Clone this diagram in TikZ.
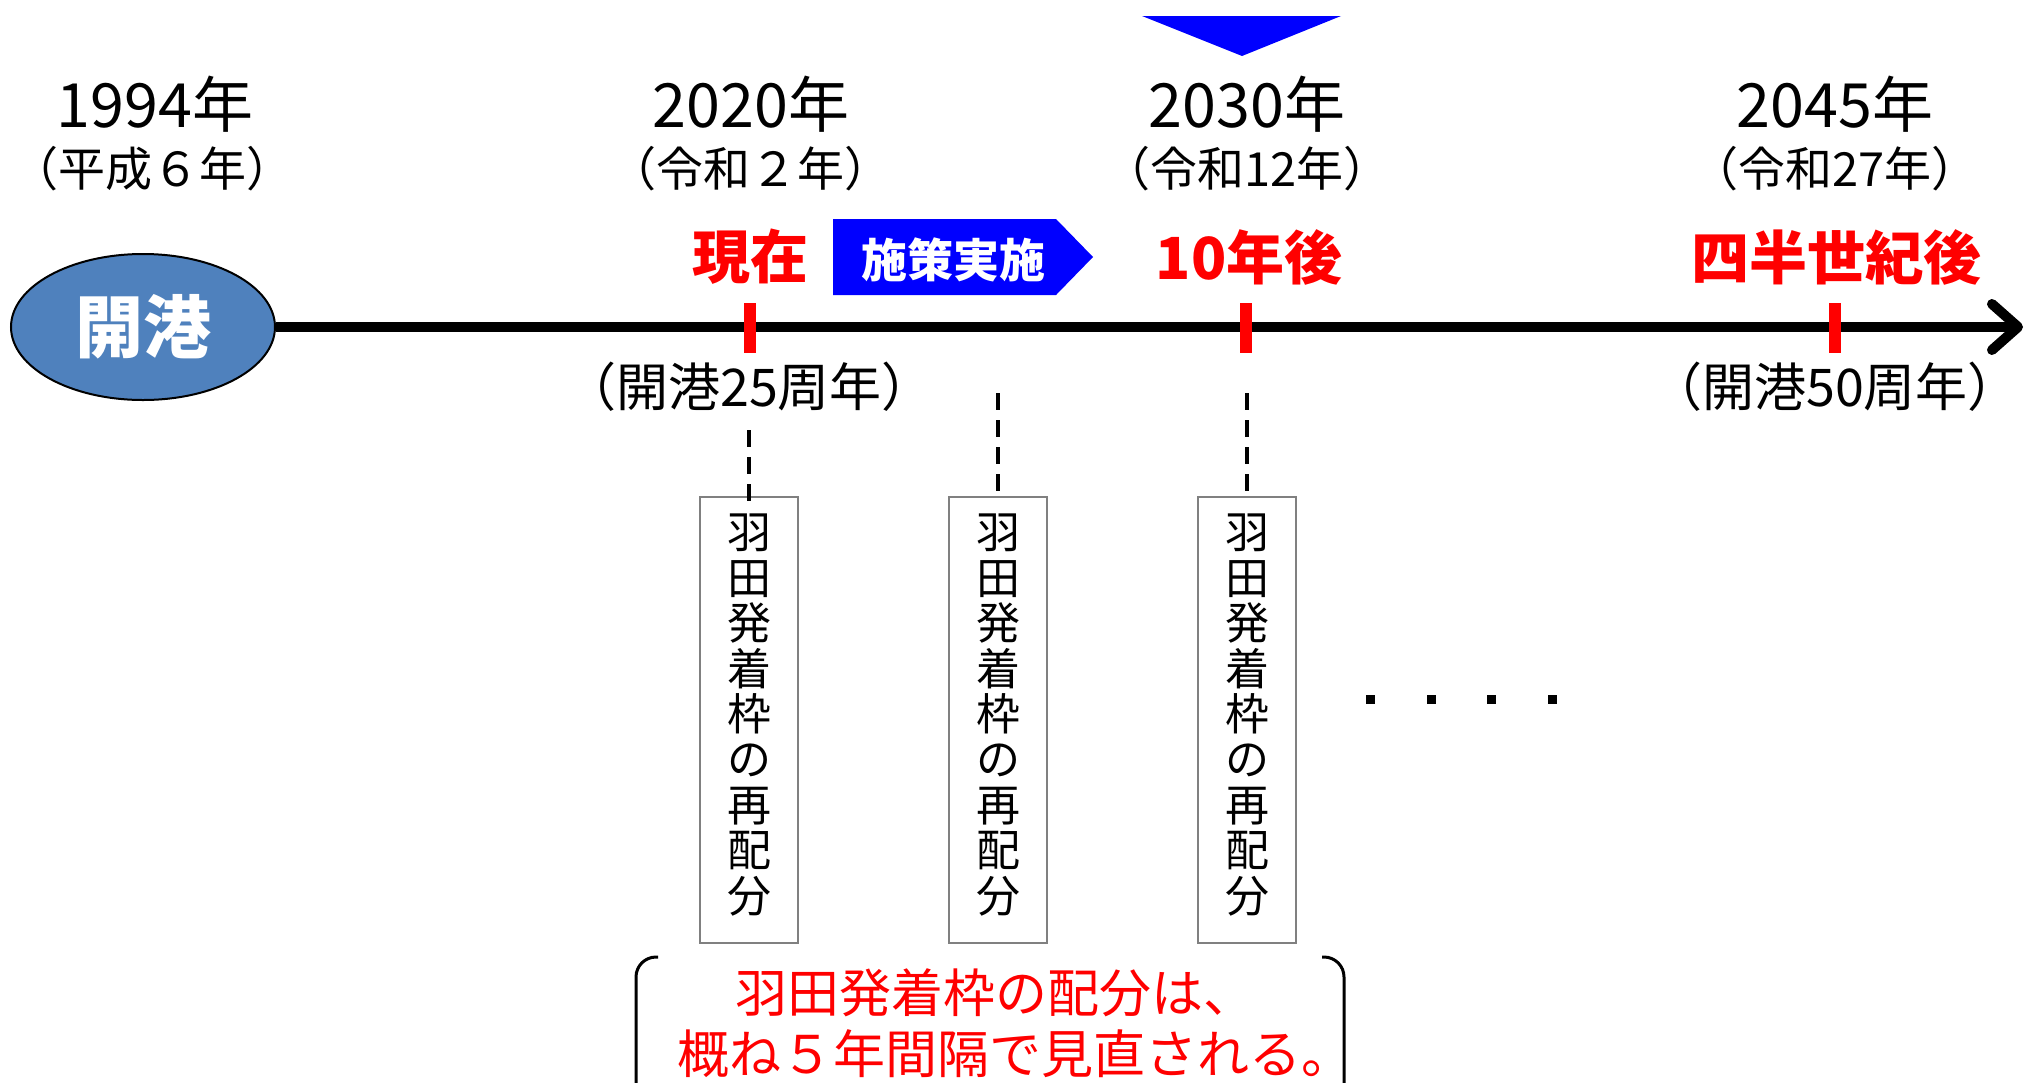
\documentclass[tikz,border=0pt]{standalone}
\usepackage{fontspec}
\setmainfont{Noto Sans CJK JP}
\usetikzlibrary{shapes.geometric,arrows.meta}
\newcommand\myfs[2]{\fontsize{#1}{#2}\selectfont}
\definecolor{kblue}{HTML}{4F81BD}
\definecolor{pblue}{HTML}{0000FF}
\definecolor{pred}{HTML}{FF0000}
\definecolor{bgray}{HTML}{808080}
\begin{document}
\begin{tikzpicture}[x=1pt,y=-1pt,
  yr/.style={inner sep=0pt,font=\myfs{61pt}{64pt}},
  sub/.style={inner sep=0pt,font=\myfs{47pt}{50pt}},
  ann/.style={inner sep=0pt,font=\myfs{52pt}{55pt}},
  redlab/.style={inner sep=0pt,text=pred,font=\bfseries\myfs{58pt}{60pt}},
  tick/.style={fill=pred,draw=none},
  vbox/.style={draw=bgray,line width=2pt,minimum width=98pt,minimum height=446pt,inner sep=0pt},
  vtext/.style={inner sep=0pt,align=center,font=\myfs{44pt}{45.4pt}},
  dline/.style={line width=3.5pt,dash pattern=on 17pt off 10pt},
  dotsq/.style={fill=black,minimum size=9pt,inner sep=0pt,draw=none}
]
\useasboundingbox (0,0) rectangle (2026,1082);

% top triangle
\fill[pblue] (1142,16) -- (1341,16) -- (1242,56) -- cycle;

% year labels
\node[yr] (y1994) at (155,104) {1994年};
\node[sub] (s1994) at (152,169) {（平成６年）};
\node[yr] (y2020) at (751,104) {2020年};
\node[sub] (s2020) at (750,169) {（令和２年）};
\node[yr] (y2030) at (1247,104) {2030年};
\node[sub] (s2030) at (1247,169) {（令和12年）};
\node[yr] (y2045) at (1835,104) {2045年};
\node[sub] (s2045) at (1835,169) {（令和27年）};

% red labels
\node[redlab] (now) at (750,257) {現在};
\node[redlab] (ten) at (1249,257) {10年後};
\node[redlab] (quarter) at (1836,257) {四半世紀後};

% policy arrow
\fill[pblue] (833,219) -- (1056,219) -- (1093,257) -- (1056,295) -- (833,295) -- cycle;
\node[inner sep=0pt,text=white,font=\bfseries\myfs{46pt}{48pt}] (policy) at (953,260) {施策実施};

% opening ellipse
\node[ellipse,draw=black,line width=2pt,fill=kblue,minimum width=264pt,minimum height=146pt,inner sep=0pt,
  text=white,font=\bfseries\myfs{68pt}{70pt}] (kaiko) at (143,327) {開港};

% timeline
\coordinate (tend) at (2023,327);
\draw[line width=10pt,-{Straight Barb[length=26pt,width=46pt,line cap=round,line join=round]}] (kaiko.east) -- (tend);

% ticks
\fill[tick] (744,303) rectangle (756,353);
\fill[tick] (1240,303) rectangle (1252,353);
\fill[tick] (1829,303) rectangle (1841,353);

% anniversaries
\node[ann] (a25) at (749,387) {（開港25周年）};
\node[ann] (a50) at (1835,387) {（開港50周年）};

% vertical boxes
\node[vbox] (b1) at (749,720) {};
\node[vbox] (b2) at (998,720) {};
\node[vbox] (b3) at (1247,720) {};
\node[vtext] (t1) at (749,715) {羽\\田\\発\\着\\枠\\の\\再\\配\\分};
\node[vtext] (t2) at (998,715) {羽\\田\\発\\着\\枠\\の\\再\\配\\分};
\node[vtext] (t3) at (1247,715) {羽\\田\\発\\着\\枠\\の\\再\\配\\分};

% dashed connectors
\coordinate (d1) at (749,430);
\coordinate (d2) at (998,393);
\coordinate (d3) at (1247,393);
\draw[dline] (d1) -- ([yshift=-10pt]b1.north);
\draw[dline] (d2) -- (b2.north);
\draw[dline] (d3) -- (b3.north);

% dots
\node[dotsq] (p1) at (1370,699) {};
\node[dotsq] (p2) at (1431,699) {};
\node[dotsq] (p3) at (1491,699) {};
\node[dotsq] (p4) at (1552,699) {};

% bracket pair
\draw[line width=3pt,rounded corners=20pt] (658,957) -- (636,957) -- (636,1130);
\draw[line width=3pt,rounded corners=20pt] (1322,957) -- (1344,957) -- (1344,1130);
\node[inner sep=0pt,align=center,text=pred,font=\myfs{52pt}{61pt}] (note) at (995,1023)
  {羽田発着枠の配分は、\\\hspace*{40pt}概ね５年間隔で見直される。};
\end{tikzpicture}
\end{document}
